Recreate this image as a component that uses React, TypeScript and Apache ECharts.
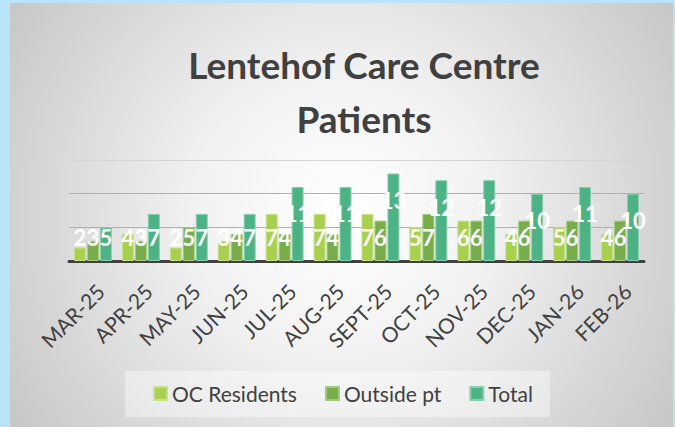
import React, { useEffect, useRef } from "react";
import * as echarts from "echarts";

const months = ["MAR-25", "APR-25", "MAY-25", "JUN-25", "JUL-25", "AUG-25", "SEPT-25", "OCT-25", "NOV-25", "DEC-25", "JAN-26", "FEB-26"];
const ocResidents = [2, 4, 2, 3, 7, 7, 7, 5, 6, 4, 5, 4];
const outsidePt = [3, 3, 5, 4, 4, 4, 6, 7, 6, 6, 6, 6];
const total = [5, 7, 7, 7, 11, 11, 13, 12, 12, 10, 11, 10];
const seriesNames = ["OC Residents", "Outside pt", "Total"];
const titleLines = ["Lentehof Care Centre", "Patients"];

const colors = ["#a8d04f", "#79ad4b", "#4db385"];
const borders = ["#c6e38a", "#a3cc80", "#8ad0b0"];

const labelFor = (v: number) =>
  v >= 8
    ? { position: "insideTop", distance: 16 }
    : { position: "insideBottom", distance: 13 };

export default function App() {
  const ref = useRef<HTMLDivElement>(null);
  useEffect(() => {
    if (!ref.current) return;
    const chart = echarts.init(ref.current, undefined, { renderer: "svg" });
    const all = [ocResidents, outsidePt, total];
    chart.setOption({
      animation: false,
      backgroundColor: "transparent",
      textStyle: { fontFamily: "Lato" },
      graphic: [
        {
          type: "text",
          x: 364,
          y: 64,
          style: {
            text: titleLines[0],
            align: "center",
            verticalAlign: "middle",
            fontSize: 37,
            fontWeight: "bold",
            fontFamily: "Lato",
            fill: "#404040",
          },
        },
        {
          type: "text",
          x: 364,
          y: 118,
          style: {
            text: titleLines[1],
            align: "center",
            verticalAlign: "middle",
            fontSize: 37,
            fontWeight: "bold",
            fontFamily: "Lato",
            fill: "#404040",
          },
        },
      ],
      legend: {
        left: 125,
        top: 371,
        padding: [12, 17, 13, 28],
        itemGap: 28,
        itemWidth: 13,
        itemHeight: 13,
        icon: "rect",
        backgroundColor: "rgba(255,255,255,0.4)",
        textStyle: { fontSize: 21, color: "#404040", fontFamily: "Lato" },
        data: seriesNames,
      },
      grid: { left: 69, right: 31, top: 160, bottom: 166, containLabel: false },
      xAxis: {
        type: "category",
        data: months,
        axisLine: { lineStyle: { color: "#404040", width: 3 } },
        axisTick: { length: 7, lineStyle: { color: "#404040", width: 3 } },
        axisLabel: {
          rotate: 45,
          interval: 0,
          margin: 19,
          verticalAlign: "top",
          fontSize: 21,
          color: "#404040",
          fontFamily: "Lato",
        },
      },
      yAxis: {
        type: "value",
        min: 0,
        max: 15,
        interval: 5,
        axisLabel: { show: false },
        axisLine: { show: false },
        axisTick: { show: false },
        splitLine: {
          lineStyle: { color: ["#b0b0b0", "#b0b0b0", "#b0b0b0", "#d4d4d4"], width: 1 },
        },
      },
      series: seriesNames.map((name, i) => ({
        name,
        type: "bar",
        barWidth: 12,
        barGap: "8%",
        itemStyle: { color: colors[i], borderColor: borders[i], borderWidth: 1 },
        label: {
          show: true,
          color: "#ffffff",
          fontSize: 22,
          fontWeight: "bold",
          fontFamily: "Lato",
        },
        data: all[i].map((v) => ({ value: v, label: labelFor(v) })),
      })),
    });
    return () => chart.dispose();
  }, []);

  return (
    <div style={{ position: "fixed", left: 0, top: 0, width: 675, height: 427, background: "#b9e4f8" }}>
      <div
        style={{
          position: "absolute",
          left: 10,
          top: 3,
          width: 663,
          height: 424,
          background:
            "radial-gradient(ellipse 62% 95% at 50% 50%, #ffffff 0%, #f2f2f2 35%, #c4c4c4 100%)",
        }}
      />
      <div ref={ref} style={{ position: "absolute", left: 0, top: 0, width: 675, height: 427 }} />
    </div>
  );
}
